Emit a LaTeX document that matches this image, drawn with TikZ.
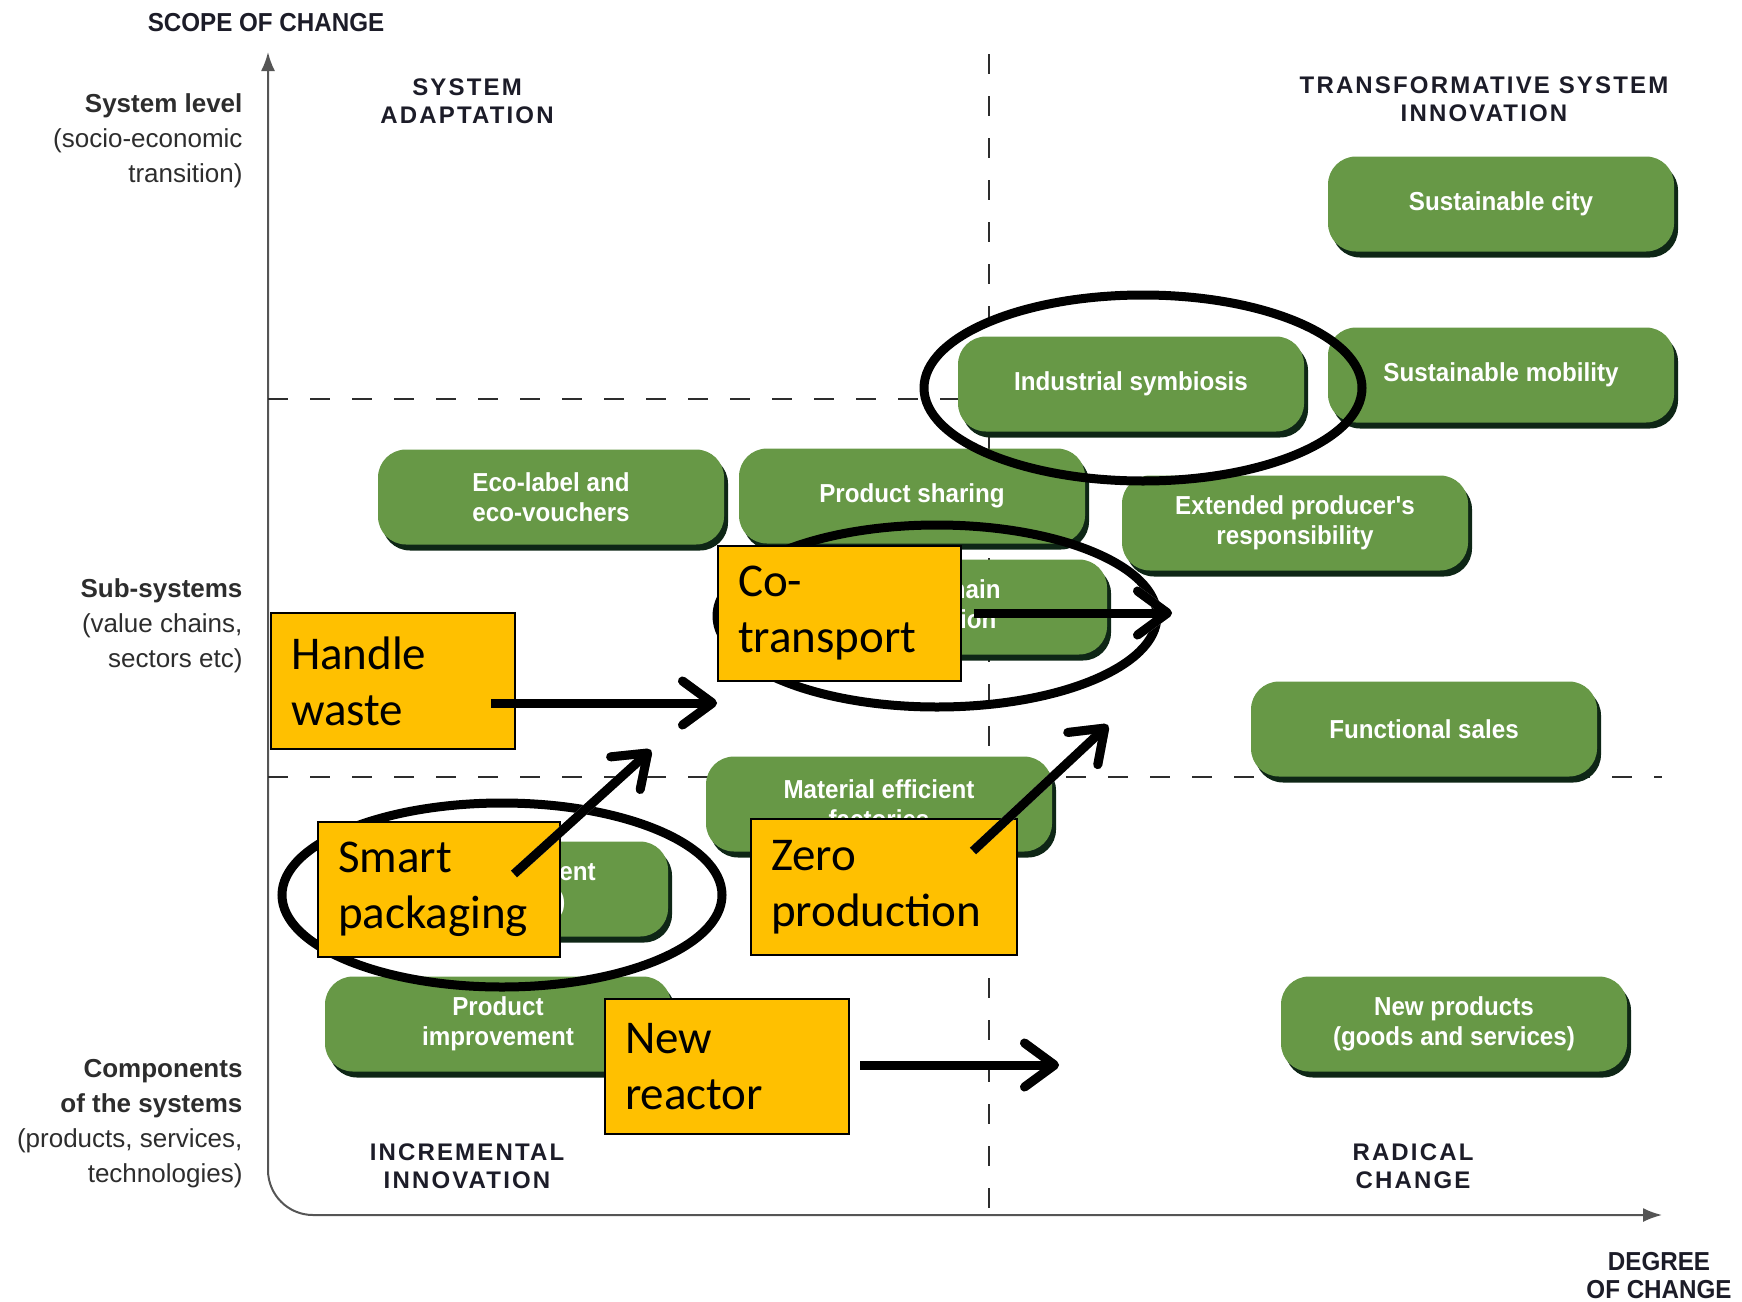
\documentclass[tikz,border=0pt]{standalone}
\usepackage{fontspec}
\setmainfont{Liberation Sans}
\newfontfamily\boxfont[FakeStretch=0.93]{Liberation Sans}
\newfontfamily\headfont[LetterSpace=9]{Liberation Sans}
\newfontfamily\notefont{Carlito}
\usetikzlibrary{arrows.meta,shadows}

\definecolor{boxgreen}{RGB}{103,152,70}
\definecolor{boxshade}{RGB}{14,38,22}
\definecolor{noteyellow}{RGB}{255,192,0}
\definecolor{axisgray}{RGB}{85,85,85}
\definecolor{labelgray}{RGB}{45,45,45}
\definecolor{headnavy}{RGB}{28,28,40}

\begin{document}
\begin{tikzpicture}[x=1pt,y=-1pt,
    greenbox/.style={rounded corners=28pt, fill=boxgreen, text=white, minimum width=346pt,
      minimum height=95pt, align=center, font=\boxfont\bfseries\fontsize{26}{30}\selectfont,
      drop shadow={shadow xshift=4pt, shadow yshift=-6pt, fill=boxshade, opacity=1}},
    notebox/.style={draw=black, line width=2pt, fill=noteyellow, anchor=north west, align=left,
      inner xsep=20pt, inner ysep=0pt, font=\notefont\fontsize{47}{56}\selectfont},
    sidelabel/.style={anchor=east, align=right, text=labelgray, font=\fontsize{26}{35}\selectfont},
    headlabel/.style={align=center, text=headnavy, font=\headfont\bfseries\fontsize{24}{28}\selectfont},
    axislabel/.style={align=center, text=headnavy, font=\boxfont\bfseries\fontsize{26}{28}\selectfont},
    axis/.style={draw=axisgray, line width=2pt, rounded corners=45pt, {Latex[length=19pt,width=14pt]}-{Latex[length=19pt,width=14pt]}},
    divider/.style={draw=labelgray, line width=1.6pt, dash pattern=on 20pt off 22pt},
    ring/.style={draw=black, line width=9pt},
    push/.style={draw=black, line width=9pt, -{Straight Barb[round,length=30pt,width=44pt]}},
    pushshade/.style={push, draw=black!35, xshift=3pt, yshift=-4pt}]

  \useasboundingbox (0,0) rectangle (1742,1301);

  \draw[axis] (268,52) -- (268,1215) -- (1662,1215);
  \draw[divider] (989,54) -- (989,1222);
  \draw[divider] (268,399) -- (1100,399);
  \draw[divider] (268,777) -- (1662,777);

  \node[axislabel] (scope) at (266,23) {SCOPE OF CHANGE};
  \node[axislabel] (degree) at (1659,1276) {DEGREE\\OF CHANGE};
  \node[sidelabel] (syslevel) at (246,141) {\textbf{System level}\\(socio-economic\\transition)};
  \node[sidelabel] (subsys) at (246,626) {\textbf{Sub-systems}\\(value chains,\\sectors etc)};
  \node[sidelabel] (comps) at (246,1124) {\textbf{Components}\\\textbf{of the systems}\\(products, services,\\technologies)};
  \node[headlabel] (adapt) at (467,101) {SYSTEM\\ADAPTATION};
  \node[headlabel] (transform) at (1484,99) {TRANSFORMATIVE SYSTEM\\INNOVATION};
  \node[headlabel] (incr) at (467,1166) {INCREMENTAL\\INNOVATION};
  \node[headlabel] (radical) at (1413,1166) {RADICAL\\CHANGE};

  \node[greenbox] (city) at (1501,204) {Sustainable city};
  \node[greenbox] (symbiosis) at (1131,384) {Industrial symbiosis};
  \node[greenbox] (mobility) at (1501,375) {Sustainable mobility};
  \node[greenbox] (ecolabel) at (551,497) {Eco-label and\\eco-vouchers};
  \node[greenbox] (sharing) at (912,496) {Product sharing};
  \node[greenbox] (producer) at (1295,523) {Extended producer's\\responsibility};
  \node[greenbox] (chain) at (934,607) {Value chain\\integration};
  \node[greenbox] (functional) at (1424,729) {Functional sales};
  \node[greenbox] (material) at (879,804) {Material efficient\\factories};
  \node[greenbox] (management) at (495,889) {Eco-management\\(EMAS, ISO)};
  \node[greenbox] (improvement) at (498,1024) {Product\\improvement};
  \node[greenbox] (newproducts) at (1454,1024) {New products\\(goods and services)};

  \draw[ring] (1143,388) ellipse [x radius=219, y radius=93];
  \draw[ring] (937,616) ellipse [x radius=220, y radius=91];
  \draw[ring] (502,895) ellipse [x radius=220, y radius=92];

  \node[notebox, text width=204pt, minimum height=136pt] (waste) at (270,612) {Handle\\waste};
  \node[notebox, text width=203pt, minimum height=135pt] (cotrans) at (717,545) {Co-\\transport};
  \node[notebox, text width=202pt, minimum height=135pt] (smart) at (317,821) {Smart\\packaging};
  \node[notebox, text width=226pt, minimum height=136pt] (zero) at (750,818) {Zero\\production};
  \node[notebox, text width=204pt, minimum height=135pt] (reactor) at (604,998) {New\\reactor};

  \coordinate (wastefrom) at (491,703);
  \coordinate (wasteto) at (717,703);
  \coordinate (cotransto) at (1172,613);
  \coordinate (smartfrom) at (514,874);
  \coordinate (smartto) at (651,750);
  \coordinate (zerofrom) at (973,851);
  \coordinate (zeroto) at (1108,725);
  \coordinate (reactorto) at (1059,1065);

  \draw[pushshade] (wastefrom) -- (wasteto);
  \draw[pushshade] (cotrans.east |- cotransto) ++(12,0) -- (cotransto);
  \draw[pushshade] (smartfrom) -- (smartto);
  \draw[pushshade] (zerofrom) -- (zeroto);
  \draw[pushshade] (reactor.east |- reactorto) ++(10,0) -- (reactorto);

  \draw[push] (wastefrom) -- (wasteto);
  \draw[push] (cotrans.east |- cotransto) ++(12,0) -- (cotransto);
  \draw[push] (smartfrom) -- (smartto);
  \draw[push] (zerofrom) -- (zeroto);
  \draw[push] (reactor.east |- reactorto) ++(10,0) -- (reactorto);
\end{tikzpicture}
\end{document}
